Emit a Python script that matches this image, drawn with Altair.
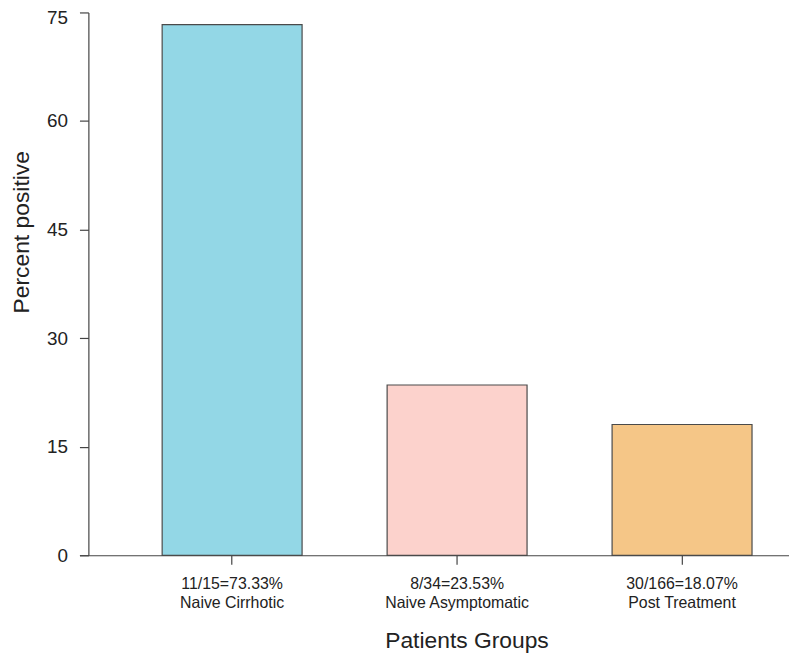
import altair as alt
import pandas as pd

groups = ["Naive Cirrhotic", "Naive Asymptomatic", "Post Treatment"]
fractions = ["11/15=73.33%", "8/34=23.53%", "30/166=18.07%"]
percent = [73.33, 23.53, 18.07]
colors = ["#93D7E6", "#FCD2CC", "#F5C687"]
y_ticks = [0, 15, 30, 45, 60, 75]

keys = [f"{f}|{g}" for f, g in zip(fractions, groups)]
df = pd.DataFrame({"key": keys, "group": groups, "percent": percent})

FONT = "Liberation Sans"
AX = "#444444"
TXT = "#222222"

chart = alt.Chart(df).mark_bar(stroke="#4a4a4a", strokeWidth=1.2).encode(
    x=alt.X(
        "key:N",
        sort=keys,
        scale=alt.Scale(paddingInner=0.378, paddingOuter=0.266, align=0.691),
        axis=alt.Axis(
            title="Patients Groups",
            labelExpr="split(datum.label, '|')",
            labelAngle=0,
            labelFont=FONT,
            labelFontSize=16,
            labelColor=TXT,
            labelPadding=11,
            labelLineHeight=20,
            labelBaseline="top",
            tickSize=9,
            tickColor=AX,
            tickWidth=1.2,
            domainColor=AX,
            domainWidth=1.2,
            titleFont=FONT,
            titleFontSize=23,
            titleFontWeight="normal",
            titleColor=TXT,
            titleX=390,
            titleY=93,
            titleAlign="center",
            titleBaseline="alphabetic",
            grid=False,
        ),
    ),
    y=alt.Y(
        "percent:Q",
        scale=alt.Scale(domain=[0, 75], nice=False, zero=True),
        axis=alt.Axis(
            title="Percent positive",
            values=y_ticks,
            offset=-9,
            labelFont=FONT,
            labelFontSize=19,
            labelColor=TXT,
            labelPadding=12,
            labelOffset={"condition": {"test": "datum.value == 75", "value": 5}, "value": 0},
            tickSize=9,
            tickColor=AX,
            tickWidth=1.2,
            domainColor=AX,
            domainWidth=1.2,
            titleFont=FONT,
            titleFontSize=23,
            titleFontWeight="normal",
            titleColor=TXT,
            titleX=-60,
            titleY=221,
            titleAlign="center",
            titleBaseline="alphabetic",
            grid=False,
        ),
    ),
    color=alt.Color("group:N", scale=alt.Scale(domain=groups, range=colors), legend=None),
).properties(
    width=715,
    height=547,
    padding={"left": 72, "top": 2, "right": 0, "bottom": 98},
    autosize="none",
).configure_view(stroke=None)

chart.save("out.html", embed_options={"renderer": "svg", "actions": False})
